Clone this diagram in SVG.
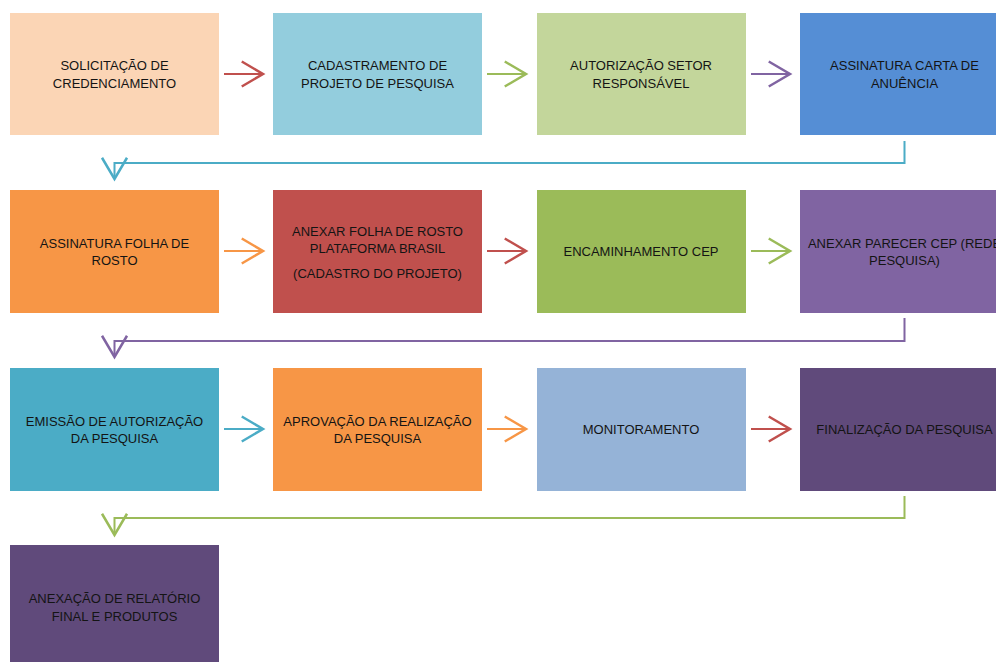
<svg xmlns="http://www.w3.org/2000/svg" width="996" height="662" viewBox="0 0 996 662">
<style>
.t{font-family:"Liberation Sans",Arial,sans-serif;font-size:13px;fill:#141414;text-anchor:middle}
.c{fill:none;stroke-width:2}
</style>
<defs>
<marker id="mRed" markerUnits="userSpaceOnUse" markerWidth="30" markerHeight="30" viewBox="-20 -12 22 24" refX="0" refY="0" orient="auto"><path d="M-17,-10 L0,0 L-17,10" fill="none" stroke="#C0504D" stroke-width="2"/></marker>
<marker id="mGreen" markerUnits="userSpaceOnUse" markerWidth="30" markerHeight="30" viewBox="-20 -12 22 24" refX="0" refY="0" orient="auto"><path d="M-17,-10 L0,0 L-17,10" fill="none" stroke="#9BBB59" stroke-width="2"/></marker>
<marker id="mPurple" markerUnits="userSpaceOnUse" markerWidth="30" markerHeight="30" viewBox="-20 -12 22 24" refX="0" refY="0" orient="auto"><path d="M-17,-10 L0,0 L-17,10" fill="none" stroke="#8064A2" stroke-width="2"/></marker>
<marker id="mBlue" markerUnits="userSpaceOnUse" markerWidth="30" markerHeight="30" viewBox="-20 -12 22 24" refX="0" refY="0" orient="auto"><path d="M-17,-10 L0,0 L-17,10" fill="none" stroke="#4BACC6" stroke-width="2"/></marker>
<marker id="mOrange" markerUnits="userSpaceOnUse" markerWidth="30" markerHeight="30" viewBox="-20 -12 22 24" refX="0" refY="0" orient="auto"><path d="M-17,-10 L0,0 L-17,10" fill="none" stroke="#F79646" stroke-width="2"/></marker>
</defs>
<rect width="996" height="662" fill="#ffffff"/>

<g id="n1"><rect x="10" y="13" width="209" height="122" fill="#FBD5B5"/><text class="t" x="114.5" y="70">SOLICITAÇÃO DE</text><text class="t" x="114.5" y="88">CREDENCIAMENTO</text></g>
<g id="n2"><rect x="273" y="13" width="209" height="122" fill="#93CDDD"/><text class="t" x="377.5" y="70">CADASTRAMENTO DE</text><text class="t" x="377.5" y="88">PROJETO DE PESQUISA</text></g>
<g id="n3"><rect x="537" y="13" width="209" height="122" fill="#C3D69B"/><text class="t" x="641" y="70">AUTORIZAÇÃO SETOR</text><text class="t" x="641" y="88">RESPONSÁVEL</text></g>
<g id="n4"><rect x="800" y="13" width="209" height="122" fill="#558ED5"/><text class="t" x="904.5" y="70">ASSINATURA CARTA DE</text><text class="t" x="904.5" y="88">ANUÊNCIA</text></g>

<g id="n5"><rect x="10" y="190" width="209" height="123" fill="#F79646"/><text class="t" x="114.5" y="248">ASSINATURA FOLHA DE</text><text class="t" x="114.5" y="265">ROSTO</text></g>
<g id="n6"><rect x="273" y="190" width="209" height="123" fill="#C0504D"/><text class="t" x="377.5" y="236">ANEXAR FOLHA DE ROSTO</text><text class="t" x="377.5" y="253">PLATAFORMA BRASIL</text><text class="t" x="377.5" y="278">(CADASTRO DO PROJETO)</text></g>
<g id="n7"><rect x="537" y="190" width="209" height="123" fill="#9BBB59"/><text class="t" x="641" y="256">ENCAMINHAMENTO CEP</text></g>
<g id="n8"><rect x="800" y="190" width="209" height="123" fill="#8064A2"/><text class="t" x="904.5" y="248">ANEXAR PARECER CEP (REDE</text><text class="t" x="904.5" y="265">PESQUISA)</text></g>

<g id="n9"><rect x="10" y="368" width="209" height="123" fill="#4BACC6"/><text class="t" x="114.5" y="425.5">EMISSÃO DE AUTORIZAÇÃO</text><text class="t" x="114.5" y="443">DA PESQUISA</text></g>
<g id="n10"><rect x="273" y="368" width="209" height="123" fill="#F79646"/><text class="t" x="377.5" y="425.5">APROVAÇÃO DA REALIZAÇÃO</text><text class="t" x="377.5" y="443">DA PESQUISA</text></g>
<g id="n11"><rect x="537" y="368" width="209" height="123" fill="#95B3D7"/><text class="t" x="641" y="433.5">MONITORAMENTO</text></g>
<g id="n12"><rect x="800" y="368" width="209" height="123" fill="#604A7B"/><text class="t" x="904.5" y="433.5">FINALIZAÇÃO DA PESQUISA</text></g>

<g id="n13"><rect x="10" y="545" width="209" height="122" fill="#604A7B"/><text class="t" x="114.5" y="603">ANEXAÇÃO DE RELATÓRIO</text><text class="t" x="114.5" y="620.5">FINAL E PRODUTOS</text></g>

<g id="connectors">
<path class="c" d="M224,74 H263" stroke="#C0504D" marker-end="url(#mRed)"/>
<path class="c" d="M487,74 H526" stroke="#9BBB59" marker-end="url(#mGreen)"/>
<path class="c" d="M751,74 H790" stroke="#8064A2" marker-end="url(#mPurple)"/>
<path class="c" d="M904.5,141 V163 H114.5 V179" stroke="#4BACC6" marker-end="url(#mBlue)"/>

<path class="c" d="M224,251 H263" stroke="#F79646" marker-end="url(#mOrange)"/>
<path class="c" d="M487,251 H526" stroke="#C0504D" marker-end="url(#mRed)"/>
<path class="c" d="M751,251 H790" stroke="#9BBB59" marker-end="url(#mGreen)"/>
<path class="c" d="M904.5,318 V341 H114.5 V357" stroke="#8064A2" marker-end="url(#mPurple)"/>

<path class="c" d="M224,429 H263" stroke="#4BACC6" marker-end="url(#mBlue)"/>
<path class="c" d="M487,429 H526" stroke="#F79646" marker-end="url(#mOrange)"/>
<path class="c" d="M751,429 H790" stroke="#C0504D" marker-end="url(#mRed)"/>
<path class="c" d="M904.5,496 V518 H114.5 V535" stroke="#9BBB59" marker-end="url(#mGreen)"/>
</g>
</svg>
